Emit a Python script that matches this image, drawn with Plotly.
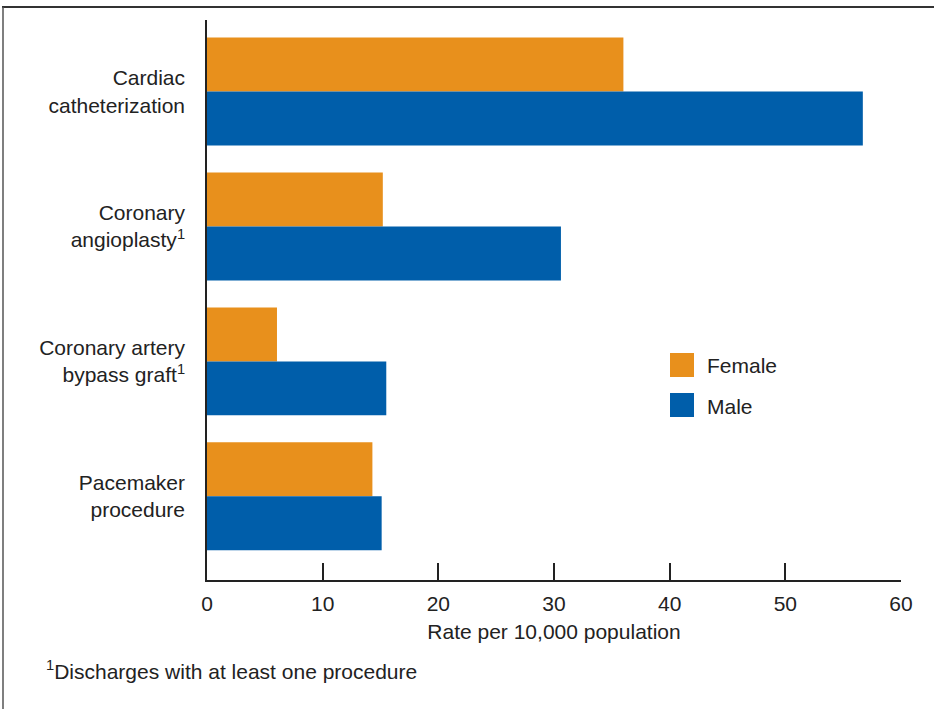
import plotly.graph_objects as go

categories = ["Cardiac<br>catheterization", "Coronary<br>angioplasty<sup>1</sup>",
              "Coronary artery<br>bypass graft<sup>1</sup>", "Pacemaker<br>procedure"]
female = [36.0, 15.2, 6.05, 14.3]
male = [56.7, 30.6, 15.5, 15.1]
x_ticks = [0, 10, 20, 30, 40, 50, 60]

ORANGE = "#E8901C"
BLUE = "#005EAA"
TXT = "#222222"
FONT = "Liberation Sans, Arial, sans-serif"
FS = 21

fig = go.Figure()
fig.add_trace(go.Bar(y=categories, x=female, name="Female", orientation="h",
                     marker=dict(color=ORANGE, line=dict(width=0))))
fig.add_trace(go.Bar(y=categories, x=male, name="Male", orientation="h",
                     marker=dict(color=BLUE, line=dict(width=0))))

W, H = 934, 709
L, R, T, B = 207, 934 - 901, 20, 709 - 580
pw, ph = W - L - R, H - T - B

def px(x):
    return (x - L) / pw

def py(y):
    return (H - B - y) / ph

shapes = [
    dict(type="line", xref="paper", yref="paper", x0=px(2), x1=px(940), y0=py(7), y1=py(7),
         line=dict(color="#333333", width=2)),
    dict(type="line", xref="paper", yref="paper", x0=px(3), x1=px(3), y0=py(7), y1=py(720),
         line=dict(color="#555555", width=1.5)),
    dict(type="rect", xref="paper", yref="paper", x0=px(670), x1=px(694), y0=py(353), y1=py(377),
         line=dict(width=0), fillcolor=ORANGE),
    dict(type="rect", xref="paper", yref="paper", x0=px(670), x1=px(694), y0=py(393), y1=py(417),
         line=dict(width=0), fillcolor=BLUE),
]
annotations = [
    dict(xref="paper", yref="paper", x=px(705), y=py(365), text="Female", showarrow=False,
         xanchor="left", yanchor="middle", font=dict(size=FS, color=TXT, family=FONT)),
    dict(xref="paper", yref="paper", x=px(705), y=py(406), text="Male", showarrow=False,
         xanchor="left", yanchor="middle", font=dict(size=FS, color=TXT, family=FONT)),
    dict(xref="paper", yref="paper", x=px(44), y=py(670), text="<sup>1</sup>Discharges with at least one procedure",
         showarrow=False, xanchor="left", yanchor="middle", font=dict(size=FS, color=TXT, family=FONT)),
]

fig.update_layout(
    width=W, height=H,
    margin=dict(l=L, r=R, t=T, b=B),
    paper_bgcolor="white", plot_bgcolor="white",
    barmode="group", bargap=0.2, bargroupgap=0,
    showlegend=False,
    font=dict(family=FONT, size=FS, color=TXT),
    shapes=shapes, annotations=annotations,
    xaxis=dict(range=[0, 60], tickvals=x_ticks, ticks="inside", ticklen=17, tickwidth=1.5,
               tickcolor=TXT, showline=True, linecolor=TXT, linewidth=1.5,
               tickfont=dict(size=FS, family=FONT, color=TXT),
               showgrid=False, zeroline=False,
               title=dict(text="Rate per 10,000 population", standoff=10,
                          font=dict(size=FS, family=FONT, color=TXT)),
               ticklabelstandoff=4),
    yaxis=dict(range=[3.62, -0.53], showline=True, linecolor=TXT, linewidth=1.5,
               tickfont=dict(size=FS, family=FONT, color=TXT),
               showgrid=False, zeroline=False, ticks="", ticklabelstandoff=16),
)

fig.write_html("out.html", config={"displayModeBar": False},
               post_script="document.body.style.margin='0px';document.body.style.overflow='hidden';")
